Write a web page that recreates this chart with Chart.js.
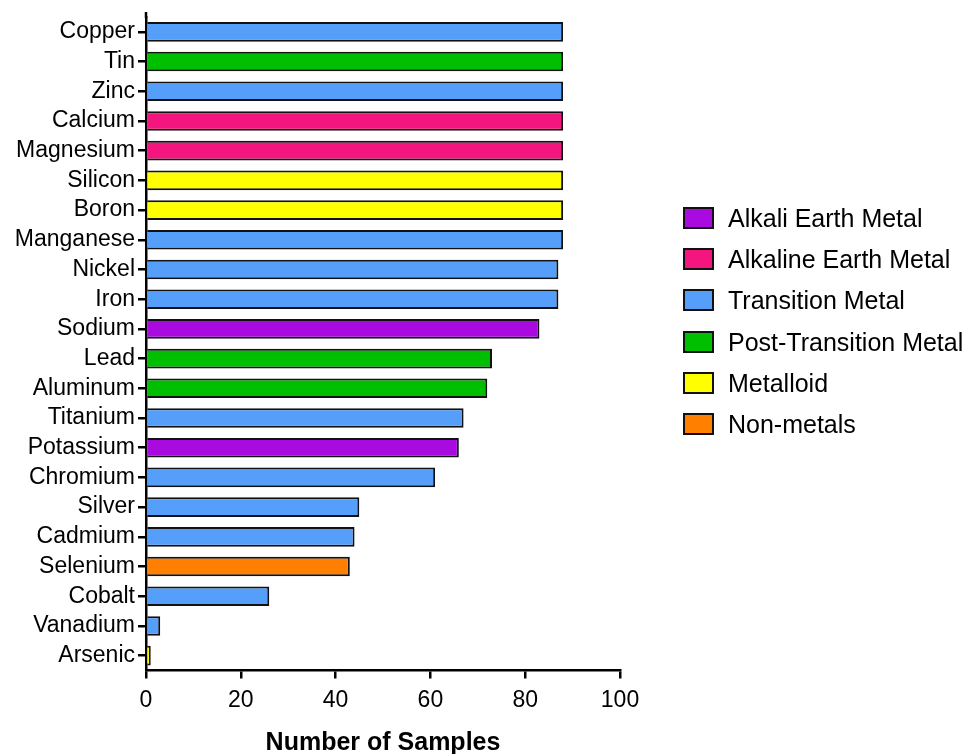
<!DOCTYPE html>
<html>
<head>
<meta charset="utf-8">
<script src="https://cdn.jsdelivr.net/npm/chart.js@4.4.1/dist/chart.umd.min.js"></script>
<style>
  html, body { margin: 0; padding: 0; background: #fff; }
  #wrap { position: relative; width: 971px; height: 754px; }
  #legend { position: absolute; left: 683px; top: 0; font-family: 'Liberation Sans', Arial, sans-serif; font-size: 25px; color: #000; }
  .item { position: absolute; left: 0; height: 24px; white-space: nowrap; }
  .box { position: absolute; left: 0; width: 31px; height: 22px; box-sizing: border-box; border: 2px solid #111; }
  .lbl { position: absolute; left: 45px; line-height: 24px; }
</style>
</head>
<body>
<div id="wrap">
  <canvas id="c" width="971" height="754"></canvas>
  <div id="legend"></div>
</div>
<script>
const categories = ['Copper','Tin','Zinc','Calcium','Magnesium','Silicon','Boron','Manganese','Nickel','Iron','Sodium','Lead','Aluminum','Titanium','Potassium','Chromium','Silver','Cadmium','Selenium','Cobalt','Vanadium','Arsenic'];
const sampleCounts = [88,88,88,88,88,88,88,88,87,87,83,73,72,67,66,61,45,44,43,26,3,1];
const groupOfElement = ['Transition Metal','Post-Transition Metal','Transition Metal','Alkaline Earth Metal','Alkaline Earth Metal','Metalloid','Metalloid','Transition Metal','Transition Metal','Transition Metal','Alkali Earth Metal','Post-Transition Metal','Post-Transition Metal','Transition Metal','Alkali Earth Metal','Transition Metal','Transition Metal','Transition Metal','Non-metals','Transition Metal','Transition Metal','Metalloid'];
const groupNames = ['Alkali Earth Metal','Alkaline Earth Metal','Transition Metal','Post-Transition Metal','Metalloid','Non-metals'];
const groupColors = ['#a90ae0','#f5157f','#559ffa','#00bf00','#ffff00','#ff8000'];
const xTicks = [0,20,40,60,80,100];

const FONT = "'Liberation Sans', Arial, sans-serif";
const colorOf = g => groupColors[groupNames.indexOf(g)];

const axisExtend = {
  id: 'axisExtend',
  afterDraw(chart) {
    const {ctx, chartArea} = chart;
    ctx.save();
    ctx.strokeStyle = '#000';
    ctx.lineWidth = 2.5;
    ctx.beginPath();
    ctx.moveTo(chartArea.left, chartArea.top - 5);
    ctx.lineTo(chartArea.left, chartArea.top + 1);
    ctx.stroke();
    ctx.restore();
  }
};

new Chart(document.getElementById('c'), {
  type: 'bar',
  data: {
    labels: categories,
    datasets: [{
      data: sampleCounts,
      backgroundColor: groupOfElement.map(colorOf),
      borderColor: '#111',
      borderWidth: 2,
      barPercentage: 0.66,
      categoryPercentage: 1
    }]
  },
  options: {
    indexAxis: 'y',
    responsive: false,
    animation: false,
    devicePixelRatio: 1,
    layout: { padding: { top: 17, right: 351, left: 0, bottom: 0 } },
    plugins: { legend: { display: false }, tooltip: { enabled: false } },
    scales: {
      y: {
        type: 'category',
        offset: true,
        grid: { display: true, drawOnChartArea: false, drawTicks: true, tickLength: 8, tickWidth: 2.5, tickColor: '#000', color: '#000', lineWidth: 2.5, offset: false },
        border: { display: true, color: '#000', width: 2.5 },
        ticks: { color: '#000', font: { family: FONT, size: 23 }, padding: 3, autoSkip: false },
        afterFit(s) { s.width = 146; }
      },
      x: {
        min: 0, max: 100,
        afterBuildTicks(s) { s.ticks = xTicks.map(v => ({ value: v })); },
        grid: { display: true, drawOnChartArea: false, drawTicks: true, tickLength: 8, tickWidth: 2.5, tickColor: '#000', color: '#000', lineWidth: 2.5 },
        border: { display: true, color: '#000', width: 2.5 },
        ticks: { color: '#000', font: { family: FONT, size: 23 }, padding: 8, maxRotation: 0 },
        title: { display: true, text: 'Number of Samples', color: '#000', font: { family: FONT, size: 25, weight: 'bold' }, padding: { top: 0, bottom: -4 } },
        afterFit(s) { s.height = 83.5; }
      }
    }
  },
  plugins: [axisExtend]
});

// legend
const legendEl = document.getElementById('legend');
const legendCenters = [218, 259.2, 300.4, 341.6, 382.8, 424];
groupNames.forEach((name, i) => {
  const item = document.createElement('div');
  item.className = 'item';
  item.style.top = (legendCenters[i] - 12) + 'px';
  const box = document.createElement('div');
  box.className = 'box';
  box.style.top = '1px';
  box.style.background = groupColors[i];
  const lbl = document.createElement('div');
  lbl.className = 'lbl';
  lbl.textContent = name;
  item.appendChild(box);
  item.appendChild(lbl);
  legendEl.appendChild(item);
});
</script>
</body>
</html>
